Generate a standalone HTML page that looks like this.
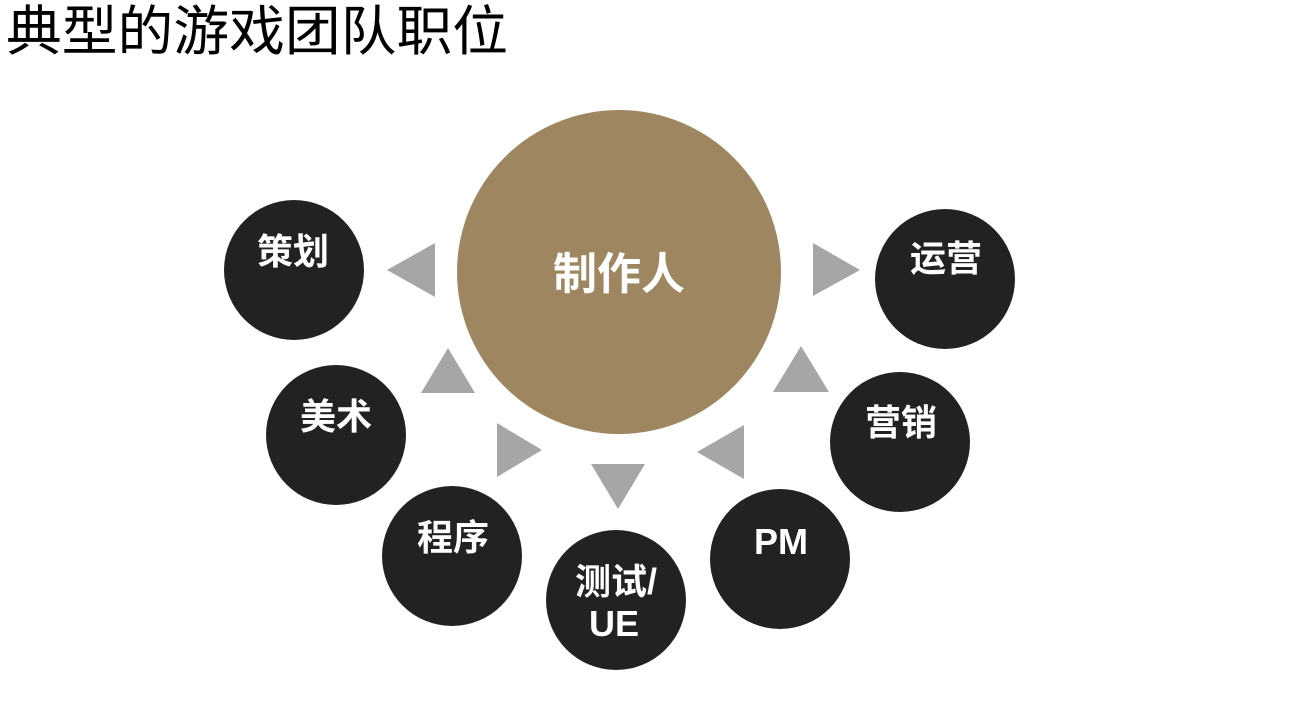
<!DOCTYPE html>
<html><head><meta charset="utf-8"><style>
html,body{margin:0;padding:0;background:#fff;width:1310px;height:702px;overflow:hidden}
svg{display:block}
text{font-family:"Liberation Sans","Noto Sans CJK SC",sans-serif}
</style></head><body>
<svg width="1310" height="702" viewBox="0 0 1310 702">
<text x="6" y="50" font-size="54" fill="#000" textLength="502" lengthAdjust="spacingAndGlyphs">典型的游戏团队职位</text>
<circle cx="619" cy="272" r="162" fill="#9E8660"/>
<text x="619" y="289" font-size="44" font-weight="bold" fill="#fff" text-anchor="middle">制作人</text>
<g fill="#222">
<circle cx="294" cy="270" r="70"/>
<circle cx="945" cy="279" r="70"/>
<circle cx="336" cy="435" r="70"/>
<circle cx="900" cy="442" r="70"/>
<circle cx="452" cy="556" r="70"/>
<circle cx="780" cy="559" r="70"/>
<circle cx="616" cy="600" r="70"/>
</g>
<g fill="#fff" font-size="36" font-weight="bold" text-anchor="middle">
<text x="293" y="264">策划</text>
<text x="946" y="271">运营</text>
<text x="336" y="429">美术</text>
<text x="901" y="435">营销</text>
<text x="453" y="550">程序</text>
<text x="781" y="554">PM</text>
<text x="616" y="594">测试/</text>
<text x="614" y="636">UE</text>
</g>
<g fill="#A6A6A6">
<polygon points="387,270 435,243 435,297"/>
<polygon points="813,243 813,296 860,270"/>
<polygon points="448,348 421,393 475,393"/>
<polygon points="801,346 773,392 829,392"/>
<polygon points="497,423 497,477 542,450"/>
<polygon points="697,452 744,425 744,479"/>
<polygon points="591,464 645,464 618,509"/>
</g>
</svg>
</body></html>
